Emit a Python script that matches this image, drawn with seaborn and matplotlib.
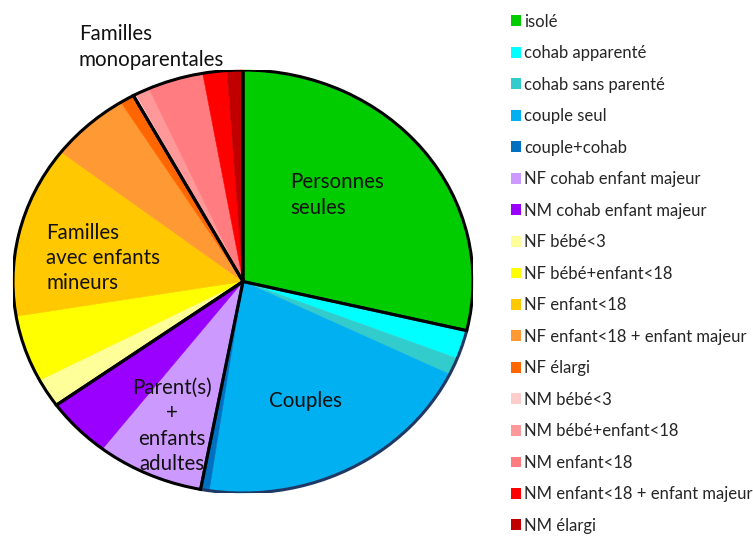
"""
Household types pie chart - recreated with seaborn / matplotlib.

Saves: out.png
"""

import matplotlib

matplotlib.use("Agg")

import matplotlib.pyplot as plt
import matplotlib.patches as mpatches
import seaborn as sns

FIG_W_PX = 753
FIG_H_PX = 537
DPI = 100

LABELS = [
    "isolé",
    "cohab apparenté",
    "cohab sans parenté",
    "couple seul",
    "couple+cohab",
    "NF cohab enfant majeur",
    "NM cohab enfant majeur",
    "NF bébé<3",
    "NF bébé+enfant<18",
    "NF enfant<18",
    "NF enfant<18 + enfant majeur",
    "NF élargi",
    "NM bébé<3",
    "NM bébé+enfant<18",
    "NM enfant<18",
    "NM enfant<18 + enfant majeur",
    "NM élargi",
]

# shares in percent
SHARES = [28.7, 2.2, 1.3, 20.1, 0.6, 7.5, 4.6, 2.2, 5.1, 13.1, 5.6, 1.0, 0.2, 1.0, 3.9, 1.7, 1.1]

COLORS = [
    "#00CC00", "#00FFFF", "#33CCCC", "#00B0F0", "#0070C0",
    "#CC99FF", "#9900FF", "#FFFF99", "#FFFF00", "#FFC800",
    "#FF9933", "#FF6600", "#FFCCCC", "#FF9999", "#FF7C80",
    "#FF0000", "#C00000",
]

# how the slices are grouped (index ranges) and the outline colour of each group
GROUPS = [(0, 1), (1, 5), (5, 7), (7, 12), (12, 17)]
GROUP_EDGES = ["black", "#1F3864", "black", "black", "black"]

# pie placement in pixels of the target picture (the pie is an ellipse)
PIE_LEFT, PIE_RIGHT = 13, 473
PIE_TOP, PIE_BOTTOM = 70, 493

GROUP_TEXTS = [
    ("Personnes\nseules", 290, 195, "left"),
    ("Familles\nmonoparentales", 79, 47, "left"),
    ("Familles\navec enfants\nmineurs", 46, 258, "left"),
    ("Parent(s)\n+\nenfants\nadultes", 172, 426, "center"),
    ("Couples", 305, 401, "center"),
]

FONT = ["Lato", "DejaVu Sans"]


def px_to_data(px, py):
    cx = (PIE_LEFT + PIE_RIGHT) / 2
    cy = (PIE_TOP + PIE_BOTTOM) / 2
    rx = (PIE_RIGHT - PIE_LEFT) / 2
    ry = (PIE_BOTTOM - PIE_TOP) / 2
    return (px - cx) / rx, (cy - py) / ry


def main():
    sns.set_theme(style="white")
    plt.rcParams["font.family"] = FONT

    fig = plt.figure(figsize=(FIG_W_PX / DPI, FIG_H_PX / DPI), dpi=DPI)
    ax = fig.add_axes([
        PIE_LEFT / FIG_W_PX,
        1 - PIE_BOTTOM / FIG_H_PX,
        (PIE_RIGHT - PIE_LEFT) / FIG_W_PX,
        (PIE_BOTTOM - PIE_TOP) / FIG_H_PX,
    ])

    palette = sns.color_palette(COLORS)
    slices, _ = ax.pie(
        SHARES,
        colors=palette,
        startangle=90,
        counterclock=False,
        radius=1,
    )
    for w, c in zip(slices, palette):
        w.set_edgecolor(c)
        w.set_linewidth(0.4)

    # group outlines on top of the slices
    group_sums = [sum(SHARES[a:b]) for a, b in GROUPS]
    total = sum(SHARES)
    start = 90.0
    spans = []
    for gsum in group_sums:
        sweep = 360.0 * gsum / total
        spans.append((start - sweep, start))
        start -= sweep
    order = sorted(range(len(GROUPS)), key=lambda i: GROUP_EDGES[i] == "black")
    for i in order:
        t1, t2 = spans[i]
        ax.add_patch(mpatches.Wedge((0, 0), 1, t1, t2, facecolor="none",
                                    edgecolor=GROUP_EDGES[i], linewidth=2.2,
                                    joinstyle="miter"))

    ax.set_aspect("auto")
    ax.set_xlim(-1, 1)
    ax.set_ylim(-1, 1)
    ax.axis("off")

    for text, px, py, ha in GROUP_TEXTS:
        x, y = px_to_data(px, py)
        ax.text(x, y, text, ha=ha, va="center", fontsize=14.8, color="#111111",
                linespacing=1.32, clip_on=False)

    handles = [mpatches.Patch(facecolor=c, edgecolor="none", label=l)
               for c, l in zip(palette, LABELS)]
    fig.legend(
        handles=handles,
        loc="upper left",
        bbox_to_anchor=(504 / FIG_W_PX, 1 - 7 / FIG_H_PX),
        frameon=False,
        fontsize=12,
        handlelength=0.6,
        handleheight=0.6,
        handletextpad=0.2,
        labelspacing=0.93,
        borderaxespad=0,
    )

    fig.savefig("out.png", dpi=DPI)
    plt.close(fig)
    print("[SAVED] out.png")


if __name__ == "__main__":
    main()
